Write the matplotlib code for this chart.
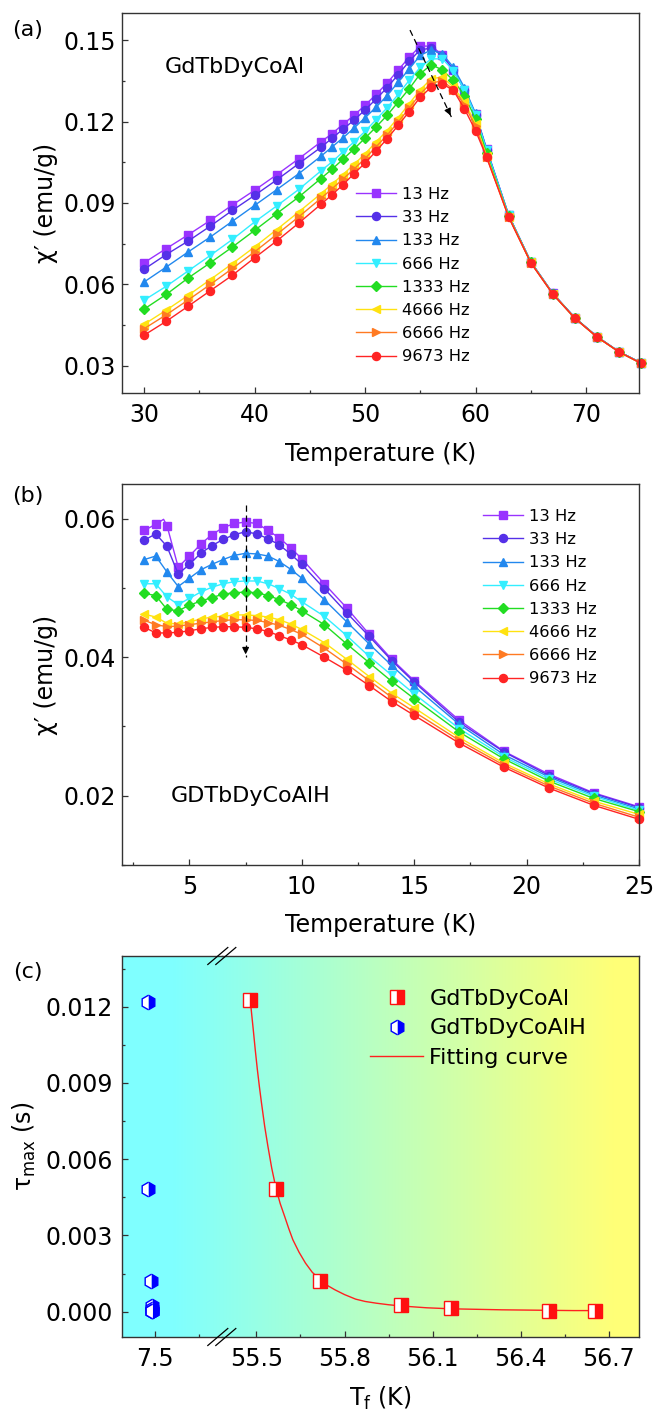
import matplotlib.pyplot as plt
import numpy as np
from matplotlib.lines import Line2D
from matplotlib.ticker import MultipleLocator, FormatStrFormatter

plt.rcParams['font.family'] = ['DejaVu Sans']
plt.rcParams['mathtext.fontset'] = 'dejavusans'

# ---------------- panel (a): GdTbDyCoAl, chi' vs T ----------------
temp_a = [30, 32, 34, 36, 38, 40, 42, 44, 46, 47, 48, 49, 50, 51, 52, 53, 54,
          55, 56, 57, 58, 59, 60, 61, 63, 65, 67, 69, 71, 73, 75]
a_13hz = [0.0680, 0.0732, 0.0783, 0.0836, 0.0893, 0.0947, 0.1004, 0.1063,
          0.1125, 0.1155, 0.1190, 0.1223, 0.1260, 0.1300, 0.1342, 0.1390,
          0.1437, 0.1478, 0.1478, 0.1446, 0.1390, 0.1317, 0.1229, 0.1100,
          0.0856, 0.0684, 0.0567, 0.0477, 0.0408, 0.0352, 0.0311]
a_33hz = [0.0656, 0.0710, 0.0760, 0.0815, 0.0873, 0.0928, 0.0985, 0.1045,
          0.1105, 0.1138, 0.1172, 0.1205, 0.1243, 0.1283, 0.1325, 0.1373,
          0.1422, 0.1465, 0.1470, 0.1443, 0.1390, 0.1316, 0.1226, 0.1097,
          0.0855, 0.0684, 0.0567, 0.0477, 0.0408, 0.0352, 0.0311]
a_133hz = [0.0609, 0.0664, 0.0720, 0.0775, 0.0833, 0.0891, 0.0949, 0.1008,
           0.1072, 0.1106, 0.1140, 0.1176, 0.1214, 0.1253, 0.1296, 0.1345,
           0.1394, 0.1444, 0.1464, 0.1450, 0.1400, 0.1325, 0.1230, 0.1100,
           0.0855, 0.0683, 0.0566, 0.0476, 0.0407, 0.0352, 0.0310]
a_666hz = [0.0542, 0.0593, 0.0650, 0.0707, 0.0766, 0.0830, 0.0889, 0.0950,
           0.1018, 0.1051, 0.1088, 0.1125, 0.1164, 0.1207, 0.1251, 0.1300,
           0.1352, 0.1400, 0.1431, 0.1431, 0.1388, 0.1317, 0.1223, 0.1094,
           0.0854, 0.0683, 0.0566, 0.0476, 0.0407, 0.0352, 0.0310]
a_1333hz = [0.0509, 0.0563, 0.0624, 0.0680, 0.0738, 0.0799, 0.0861, 0.0922,
            0.0990, 0.1024, 0.1061, 0.1099, 0.1139, 0.1180, 0.1223, 0.1272,
            0.1321, 0.1376, 0.1410, 0.1390, 0.1352, 0.1296, 0.1210, 0.1084,
            0.0852, 0.0682, 0.0565, 0.0476, 0.0407, 0.0351, 0.0310]
a_4666hz = [0.0453, 0.0505, 0.0560, 0.0618, 0.0677, 0.0738, 0.0802, 0.0867,
            0.0934, 0.0969, 0.1005, 0.1042, 0.1081, 0.1125, 0.1167, 0.1214,
            0.1266, 0.1317, 0.1358, 0.1364, 0.1327, 0.1272, 0.1192, 0.1075,
            0.0850, 0.0681, 0.0565, 0.0475, 0.0406, 0.0351, 0.0309]
a_6666hz = [0.0437, 0.0488, 0.0543, 0.0600, 0.0659, 0.0720, 0.0784, 0.0849,
            0.0917, 0.0952, 0.0988, 0.1025, 0.1064, 0.1107, 0.1150, 0.1198,
            0.1250, 0.1302, 0.1342, 0.1350, 0.1318, 0.1262, 0.1182, 0.1070,
            0.0849, 0.0680, 0.0565, 0.0475, 0.0406, 0.0351, 0.0309]
a_9673hz = [0.0413, 0.0464, 0.0520, 0.0577, 0.0634, 0.0698, 0.0760, 0.0826,
            0.0895, 0.0930, 0.0967, 0.1008, 0.1047, 0.1091, 0.1137, 0.1186,
            0.1237, 0.1290, 0.1327, 0.1339, 0.1315, 0.1247, 0.1167, 0.1069,
            0.0848, 0.0680, 0.0564, 0.0475, 0.0406, 0.0351, 0.0309]

# ---------------- panel (b): GdTbDyCoAlH, chi' vs T ----------------
temp_b = [3, 3.5, 4, 4.5, 5, 5.5, 6, 6.5, 7, 7.5, 8, 8.5, 9, 9.5, 10, 11, 12,
          13, 14, 15, 17, 19, 21, 23, 25]
# the 13 Hz run has one extra reading near 3.85 K (no symbol shown)
temp_b_13hz = [3, 3.5, 3.85, 4, 4.5, 5, 5.5, 6, 6.5, 7, 7.5, 8, 8.5, 9, 9.5,
               10, 11, 12, 13, 14, 15, 17, 19, 21, 23, 25]
b_13hz = [0.0583, 0.0592, 0.0599, 0.0590, 0.0530, 0.0546, 0.0563, 0.0577,
          0.0587, 0.0593, 0.0595, 0.0593, 0.0583, 0.0572, 0.0558, 0.0542,
          0.0506, 0.0471, 0.0433, 0.0397, 0.0366, 0.0309, 0.0264, 0.0231,
          0.0204, 0.0184]
b_33hz = [0.0569, 0.0578, 0.0560, 0.0520, 0.0534, 0.0550, 0.0561, 0.0570,
          0.0577, 0.0581, 0.0578, 0.0571, 0.0562, 0.0549, 0.0534, 0.0499,
          0.0464, 0.0430, 0.0395, 0.0364, 0.0306, 0.0263, 0.0229, 0.0203,
          0.0183]
b_133hz = [0.0541, 0.0546, 0.0523, 0.0502, 0.0514, 0.0526, 0.0534, 0.0541,
           0.0547, 0.0550, 0.0549, 0.0546, 0.0538, 0.0527, 0.0514, 0.0483,
           0.0451, 0.0419, 0.0388, 0.0358, 0.0303, 0.0259, 0.0227, 0.0201,
           0.0181]
b_666hz = [0.0506, 0.0506, 0.0487, 0.0476, 0.0485, 0.0494, 0.0501, 0.0506,
           0.0509, 0.0510, 0.0510, 0.0506, 0.0499, 0.0491, 0.0480, 0.0459,
           0.0431, 0.0401, 0.0374, 0.0347, 0.0297, 0.0256, 0.0224, 0.0199,
           0.0179]
b_1333hz = [0.0492, 0.0489, 0.0469, 0.0467, 0.0475, 0.0481, 0.0486, 0.0491,
            0.0493, 0.0494, 0.0493, 0.0489, 0.0483, 0.0476, 0.0467, 0.0447,
            0.0419, 0.0392, 0.0365, 0.0340, 0.0292, 0.0253, 0.0221, 0.0196,
            0.0177]
b_4666hz = [0.0462, 0.0458, 0.0449, 0.0448, 0.0451, 0.0455, 0.0458, 0.0459,
            0.0461, 0.0461, 0.0460, 0.0458, 0.0454, 0.0448, 0.0440, 0.0421,
            0.0397, 0.0372, 0.0348, 0.0327, 0.0284, 0.0247, 0.0217, 0.0192,
            0.0173]
b_6666hz = [0.0453, 0.0447, 0.0444, 0.0445, 0.0447, 0.0449, 0.0451, 0.0453,
            0.0454, 0.0454, 0.0453, 0.0450, 0.0446, 0.0440, 0.0433, 0.0413,
            0.0390, 0.0366, 0.0342, 0.0321, 0.0280, 0.0244, 0.0214, 0.0189,
            0.0169]
b_9673hz = [0.0443, 0.0435, 0.0435, 0.0436, 0.0438, 0.0441, 0.0443, 0.0444,
            0.0444, 0.0443, 0.0441, 0.0437, 0.0431, 0.0425, 0.0418, 0.0400,
            0.0381, 0.0359, 0.0336, 0.0316, 0.0276, 0.0241, 0.0211, 0.0186,
            0.0166]

freq_labels = ["13 Hz", "33 Hz", "133 Hz", "666 Hz", "1333 Hz", "4666 Hz",
               "6666 Hz", "9673 Hz"]

# ---------------- panel (c): tau_max vs Tf ----------------
tf_bulk = [55.479, 55.567, 55.717, 55.994, 56.162, 56.495, 56.654]
tau_bulk = [0.01226, 0.00483, 0.00121, 0.00026, 0.00013, 0.00004, 0.00003]
tf_hydride = [7.478, 7.478, 7.486, 7.489, 7.489, 7.490, 7.490, 7.490]
tau_hydride = [0.01220, 0.00481, 0.00121, 0.00024, 0.00012, 0.00003,
               0.00002, 0.00002]
fit_tf = [55.479, 55.484, 55.489, 55.496, 55.503, 55.510, 55.517, 55.528,
          55.539, 55.552, 55.567, 55.581, 55.596, 55.610, 55.624, 55.645,
          55.667, 55.690, 55.717, 55.740, 55.767, 55.800, 55.838, 55.870,
          55.909, 55.950, 55.994, 56.080, 56.162, 56.250, 56.337, 56.420,
          56.496, 56.580, 56.654]
fit_tau = [0.01226, 0.01168, 0.01112, 0.01030, 0.00954, 0.00886, 0.00823,
           0.00730, 0.00651, 0.00565, 0.00483, 0.00425, 0.00375, 0.00327,
           0.00283, 0.00234, 0.00191, 0.00155, 0.00125, 0.00104, 0.00086,
           0.00067, 0.00049, 0.00040, 0.00033, 0.00027, 0.00022, 0.00015,
           0.00011, 0.00009, 0.00007, 0.00006, 0.00005, 0.00004, 0.00004]

# styles
colors = ["#9933FF", "#5530E8", "#2288EE", "#33EEFF", "#22DD22", "#FFE210",
          "#FF7A22", "#FF2424"]
markers = ["s", "o", "^", "v", "D", "<", ">", "o"]
msizes = [5.8, 5.8, 6.4, 6.4, 5.0, 6.4, 6.4, 5.8]

TICK_FS = 17
LABEL_FS = 17
W, H = 656, 1411


def style_axis(ax, ypad=4.5):
    for sp in ax.spines.values():
        sp.set_linewidth(1.0)
        sp.set_color("#333333")
    ax.tick_params(which="both", direction="in", top=False, right=False,
                   width=0.9, labelsize=TICK_FS, color="#333333")
    ax.tick_params(which="major", length=4.5)
    ax.tick_params(which="minor", length=2.5)
    ax.tick_params(axis="x", pad=7)
    ax.tick_params(axis="y", pad=ypad)


def fig_rect(left, top, right, bottom):
    return [left / W, 1 - bottom / H, (right - left) / W, (bottom - top) / H]


fig = plt.figure(figsize=(W / 100, H / 100), dpi=100)

# ---- (a)
ax_a = fig.add_axes(fig_rect(122, 13, 639, 393))
series_a = [a_13hz, a_33hz, a_133hz, a_666hz, a_1333hz, a_4666hz, a_6666hz,
            a_9673hz]
for vals, lab, c, m, ms in zip(series_a, freq_labels, colors, markers, msizes):
    ax_a.plot(temp_a, vals, color=c, marker=m, markersize=ms, linewidth=1.0,
              label=lab, clip_on=False)
ax_a.set_xlim(28, 74.8)
ax_a.set_ylim(0.02, 0.16)
ax_a.xaxis.set_major_locator(MultipleLocator(10))
ax_a.xaxis.set_minor_locator(MultipleLocator(5))
ax_a.yaxis.set_major_locator(MultipleLocator(0.03))
ax_a.yaxis.set_minor_locator(MultipleLocator(0.015))
ax_a.yaxis.set_major_formatter(FormatStrFormatter("%.2f"))
style_axis(ax_a)
ax_a.set_xlabel("Temperature (K)", fontsize=LABEL_FS)
ax_a.set_ylabel("χ′ (emu/g)", fontsize=LABEL_FS)
ax_a.xaxis.set_label_coords(0.5, -0.13)
ax_a.yaxis.set_label_coords(-0.124, 0.5)
ax_a.text(0.2186, 0.858, "GdTbDyCoAl", transform=ax_a.transAxes,
          fontsize=16, ha="center", va="center")
arrow_a_start = (54.07, 0.1537)
arrow_a_end = (57.86, 0.1213)
ax_a.plot([arrow_a_start[0], arrow_a_end[0]], [arrow_a_start[1], arrow_a_end[1]],
          color="black", linestyle=(0, (5, 3)), linewidth=0.9)
ax_a.annotate("", xy=arrow_a_end,
              xytext=(arrow_a_end[0] - 0.3, arrow_a_end[1] + 0.00256),
              arrowprops=dict(arrowstyle="-|>", color="black", lw=0.9,
                              mutation_scale=10))
ax_a.legend(loc="upper left", bbox_to_anchor=(356 / W, 1 - 187 / H),
            bbox_transform=fig.transFigure, frameon=False, fontsize=11.8,
            handlelength=2.45, handletextpad=0.35, labelspacing=0.5,
            borderpad=0, borderaxespad=0)

# ---- (b)
ax_b = fig.add_axes(fig_rect(122, 484, 639, 865))
series_b = [b_13hz, b_33hz, b_133hz, b_666hz, b_1333hz, b_4666hz, b_6666hz,
            b_9673hz]
for i, (vals, lab, c, m, ms) in enumerate(zip(series_b, freq_labels, colors,
                                               markers, msizes)):
    if i == 0:
        ax_b.plot(temp_b_13hz, vals, color=c, marker=m, markersize=ms,
                  linewidth=1.0, label=lab, clip_on=False,
                  markevery=[k for k in range(len(temp_b_13hz)) if k != 2])
    else:
        ax_b.plot(temp_b, vals, color=c, marker=m, markersize=ms,
                  linewidth=1.0, label=lab, clip_on=False)
ax_b.set_xlim(2, 25)
ax_b.set_ylim(0.010, 0.065)
ax_b.xaxis.set_major_locator(MultipleLocator(5))
ax_b.xaxis.set_minor_locator(MultipleLocator(2.5))
ax_b.yaxis.set_major_locator(MultipleLocator(0.02))
ax_b.yaxis.set_minor_locator(MultipleLocator(0.01))
ax_b.yaxis.set_major_formatter(FormatStrFormatter("%.2f"))
style_axis(ax_b)
ax_b.set_xlabel("Temperature (K)", fontsize=LABEL_FS)
ax_b.set_ylabel("χ′ (emu/g)", fontsize=LABEL_FS)
ax_b.xaxis.set_label_coords(0.5, -0.126)
ax_b.yaxis.set_label_coords(-0.124, 0.5)
ax_b.text(0.2495, 0.181, "GDTbDyCoAlH", transform=ax_b.transAxes,
          fontsize=16, ha="center", va="center")
arrow_b_x = 7.5
arrow_b_top, arrow_b_bottom = 0.0619, 0.0400
ax_b.plot([arrow_b_x, arrow_b_x], [arrow_b_top, arrow_b_bottom],
          color="black", linestyle=(0, (5, 3)), linewidth=0.9)
ax_b.annotate("", xy=(arrow_b_x, arrow_b_bottom),
              xytext=(arrow_b_x, arrow_b_bottom + 0.0015),
              arrowprops=dict(arrowstyle="-|>", color="black", lw=0.9,
                              mutation_scale=10))
ax_b.legend(loc="upper left", bbox_to_anchor=(483 / W, 1 - 509 / H),
            bbox_transform=fig.transFigure, frameon=False, fontsize=11.8,
            handlelength=2.45, handletextpad=0.35, labelspacing=0.5,
            borderpad=0, borderaxespad=0)

# ---- (c) broken x axis with gradient background
c_left, c_break, c_right, c_top, c_bottom = 122, 221.8, 639, 956, 1337
ax_bg = fig.add_axes(fig_rect(c_left, c_top, c_right, c_bottom), zorder=0)
gx = np.linspace(0, 1, 600)
gt = np.clip((gx - 0.1) / 0.85, 0, 1)[:, None]
cyan = np.array([0.50, 1.0, 1.0])
yellow = np.array([1.0, 1.0, 0.47])
grad = (cyan * (1 - gt) + yellow * gt)[None, :, :]
ax_bg.imshow(grad, aspect="auto", extent=[0, 1, 0, 1])
ax_bg.set_axis_off()

ax_cl = fig.add_axes(fig_rect(c_left, c_top, c_break, c_bottom), zorder=1)
ax_cr = fig.add_axes(fig_rect(c_break, c_top, c_right, c_bottom), zorder=1)
for ax in (ax_cl, ax_cr):
    ax.set_facecolor("none")
    ax.set_ylim(-0.001, 0.014)
    ax.yaxis.set_major_locator(MultipleLocator(0.003))
    ax.yaxis.set_minor_locator(MultipleLocator(0.0015))
    ax.yaxis.set_major_formatter(FormatStrFormatter("%.3f"))
    style_axis(ax, ypad=6.5)
ax_cl.spines["right"].set_visible(False)
ax_cr.spines["left"].set_visible(False)
ax_cr.tick_params(axis="y", which="both", left=False, labelleft=False)

h_pts, = ax_cl.plot(tf_hydride, tau_hydride, linestyle="none", marker="h",
                    markersize=10.5, color="blue", markerfacecolor="blue",
                    markerfacecoloralt="white", markeredgecolor="blue",
                    markeredgewidth=1.0, fillstyle="right",
                    label="GdTbDyCoAlH", clip_on=False)
ax_cl.set_xlim(7.388, 7.728)
ax_cl.set_xticks([7.5])
ax_cl.set_xticks([7.65], minor=True)
ax_cl.xaxis.set_major_formatter(FormatStrFormatter("%.1f"))

fit_line, = ax_cr.plot(fit_tf, fit_tau, color="#FF2020", linewidth=1.0,
                       label="Fitting curve")
b_pts, = ax_cr.plot(tf_bulk, tau_bulk, linestyle="none", marker="s",
                    markersize=9.5, color="#FF1010", markerfacecolor="#FF1010",
                    markerfacecoloralt="white", markeredgecolor="#FF1010",
                    markeredgewidth=1.0, fillstyle="right",
                    label="GdTbDyCoAl", clip_on=False)
ax_cr.set_xlim(55.382, 56.803)
ax_cr.xaxis.set_major_locator(MultipleLocator(0.3))
ax_cr.xaxis.set_minor_locator(MultipleLocator(0.15))
ax_cr.xaxis.set_major_formatter(FormatStrFormatter("%.1f"))

ax_cl.set_ylabel("τ$_{\\mathrm{max}}$ (s)", fontsize=LABEL_FS)
ax_cl.yaxis.set_label_coords((38 - c_left) / (c_break - c_left), 0.5)
fig.text((c_left + c_right) / 2 / W, 1 - 1398 / H, "T$_{\\mathrm{f}}$ (K)",
         fontsize=LABEL_FS, ha="center", va="center")
ax_cr.legend(handles=[b_pts, h_pts, fit_line], loc="upper left",
             bbox_to_anchor=(370 / W, 1 - 989 / H),
             bbox_transform=fig.transFigure, frameon=False, fontsize=16,
             handlelength=2.4, handletextpad=0.27, labelspacing=0.42,
             borderpad=0, borderaxespad=0)

# axis-break marks
for ybreak in (c_top, c_bottom):
    for off in (-4, 4):
        xs = [(c_break + off - 10) / W, (c_break + off + 10) / W]
        ys = [1 - (ybreak + 8.5) / H, 1 - (ybreak - 8.5) / H]
        fig.add_artist(Line2D(xs, ys, color="black", linewidth=0.9,
                              transform=fig.transFigure, zorder=5))

# panel letters
for lab, ypix in (("(a)", 30), ("(b)", 496), ("(c)", 972)):
    fig.text(28 / W, 1 - ypix / H, lab, fontsize=16, ha="center", va="center")

fig.savefig("out.png", dpi=100)
